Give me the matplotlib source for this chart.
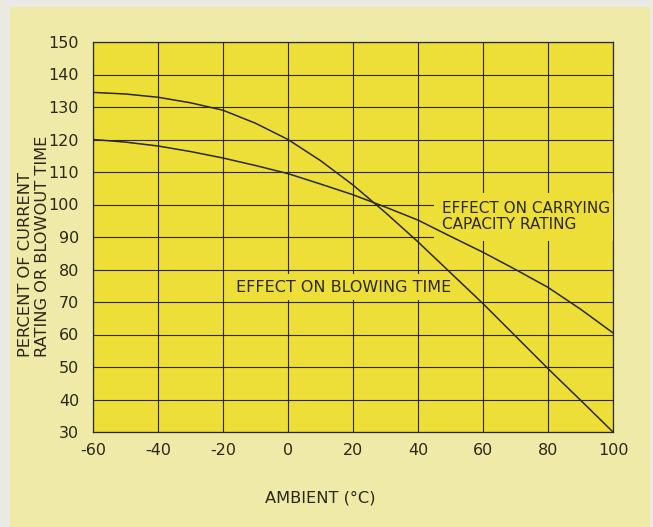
import matplotlib
matplotlib.use("Agg")
import matplotlib.pyplot as plt
from matplotlib.patches import Rectangle

# ---- data ----
ambient = [-60, -50, -40, -30, -20, -10, 0, 10, 20, 30, 40, 50, 60, 70, 80, 90, 100]
blowing_time = [134.5, 134.0, 133.0, 131.3, 129.0, 125.0, 120.0, 113.5, 106.0, 97.5,
                88.5, 79.0, 69.5, 59.5, 49.5, 39.8, 30.0]
carrying_capacity = [120.0, 119.2, 118.0, 116.3, 114.3, 112.0, 109.5, 106.3, 103.0, 99.2,
                     95.2, 90.2, 85.3, 80.0, 74.5, 67.8, 60.5]
x_ticks = [-60, -40, -20, 0, 20, 40, 60, 80, 100]
y_ticks = [30, 40, 50, 60, 70, 80, 90, 100, 110, 120, 130, 140, 150]

ink = "#2b2818"
plot_yellow = "#EEDF38"
panel_yellow = "#F0EAA8"
outer = "#EAE9E3"

plt.rcParams['font.family'] = ['DejaVu Sans']

fig = plt.figure(figsize=(6.53, 5.27), dpi=100, facecolor=outer)
fig.patches.append(Rectangle((10/653, 0), 640/653, 1 - 7/527, transform=fig.transFigure,
                             facecolor=panel_yellow, edgecolor='none', zorder=-10))

ax = fig.add_axes([93/653, 1 - 432/527, 520/653, 390/527])
ax.set_zorder(2)
ax.set_facecolor(plot_yellow)
ax.set_xlim(-60, 100)
ax.set_ylim(30, 150)
ax.set_xticks(x_ticks)
ax.set_yticks(y_ticks)
ax.set_xticklabels([str(v) for v in x_ticks])
ax.set_yticklabels([str(v) for v in y_ticks])
ax.tick_params(length=0, labelsize=11.5, colors=ink)
ax.tick_params(axis='y', pad=10)
ax.tick_params(axis='x', pad=8)
ax.set_axisbelow(True)
ax.grid(True, color=ink, linewidth=0.8)
for s in ax.spines.values():
    s.set_color(ink)
    s.set_linewidth(0.9)

ax.plot(ambient, blowing_time, color=ink, linewidth=1.1, zorder=5)
ax.plot(ambient, carrying_capacity, color=ink, linewidth=1.1, zorder=5)

ax.text(47.4, 96.2, "EFFECT ON CARRYING\nCAPACITY RATING", ha='left', va='center',
        fontsize=11, color=ink, linespacing=1.1, zorder=3, clip_on=True,
        bbox=dict(boxstyle='square,pad=0.55', facecolor=plot_yellow, edgecolor='none'))
ax.text(-16, 74.6, "EFFECT ON BLOWING TIME", ha='left', va='center',
        fontsize=11.5, color=ink, zorder=3,
        bbox=dict(boxstyle='square,pad=0.35', facecolor=plot_yellow, edgecolor='none'))

fig.text(320/653, 1 - 498/527, "AMBIENT (°C)", ha='center', va='center', fontsize=11.7, color=ink)
fig.text(34/653, 1 - 357/527, "PERCENT OF CURRENT\nRATING OR BLOWOUT TIME", rotation=90,
         ha='center', va='bottom', multialignment='left', fontsize=11.7, color=ink,
         linespacing=1.2)

fig.savefig("out.png", dpi=100, facecolor=outer)
